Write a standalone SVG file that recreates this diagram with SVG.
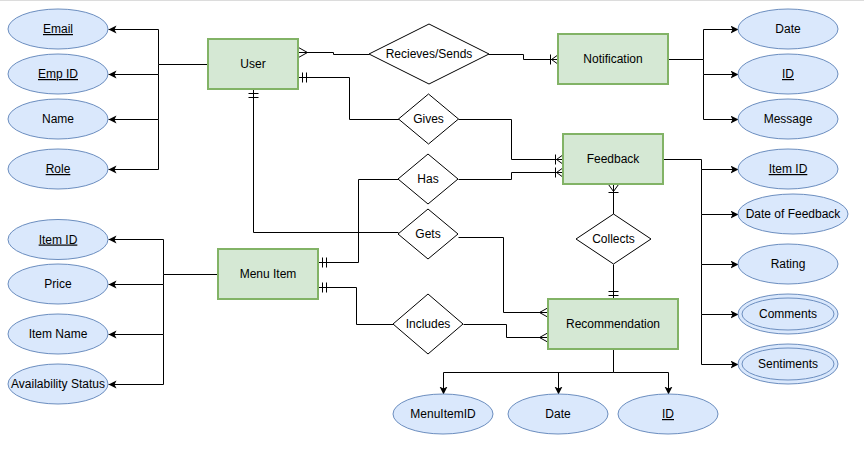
<svg xmlns="http://www.w3.org/2000/svg" width="864" height="449" viewBox="0 0 864 449">
<defs>
<style>
.ent{fill:#d5e8d4;stroke:#82b366;stroke-width:2}
.att{fill:#dae8fc;stroke:#6c8ebf;stroke-width:1}
.rel{fill:#ffffff;stroke:#000000;stroke-width:1}
.t{font-family:"Liberation Sans",Arial,sans-serif;font-size:12px;fill:#000;text-anchor:middle}
.u{text-decoration:underline}
.c{fill:none;stroke:#000;stroke-width:1}
.a{marker-end:url(#arr)}
</style>
<marker id="arr" markerWidth="10" markerHeight="10" refX="8" refY="4" orient="auto" markerUnits="userSpaceOnUse"><path d="M0,0 L8,4 L0,8 L2,4 Z" fill="#000"/></marker>
<marker id="one" markerWidth="12" markerHeight="12" refX="0" refY="0" orient="auto" markerUnits="userSpaceOnUse" overflow="visible"><path d="M4,-5 V5 M8,-5 V5" fill="none" stroke="#000" stroke-width="1"/></marker>
<marker id="many" markerWidth="12" markerHeight="12" refX="0" refY="0" orient="auto" markerUnits="userSpaceOnUse" overflow="visible"><path d="M9,0 L0,-5 M9,0 L0,5" fill="none" stroke="#000" stroke-width="1"/></marker>
<marker id="onemany" markerWidth="12" markerHeight="12" refX="0" refY="0" orient="auto" markerUnits="userSpaceOnUse" overflow="visible"><path d="M7,0 L0,-5 M7,0 L0,5 M8,-5 V5" fill="none" stroke="#000" stroke-width="1"/></marker>
</defs>
<rect x="0" y="0" width="864" height="449" fill="#ffffff"/>
<line x1="0" y1="0.5" x2="864" y2="0.5" stroke="#dcdcdc" stroke-width="1"/>

<g id="connectors" transform="translate(0.5,0.5)">
<path class="c" d="M298,52 H333 V54 H369" marker-start="url(#many)"/>
<path class="c" d="M558,59 H523 V54 H488" marker-start="url(#onemany)"/>
<path class="c" d="M298,77 H349 V119 H399" marker-start="url(#one)"/>
<path class="c" d="M563,159 H511 V119 H458" marker-start="url(#onemany)"/>
<path class="c" d="M563,172 H511 V179 H458" marker-start="url(#onemany)"/>
<path class="c" d="M318,262 H358 V179 H398" marker-start="url(#one)"/>
<path class="c" d="M253,89 V232 H398" marker-start="url(#one)"/>
<path class="c" d="M548,312 H503 V237 H458" marker-start="url(#many)"/>
<path class="c" d="M318,287 H356 V324 H393" marker-start="url(#one)"/>
<path class="c" d="M548,337 H506 V324 H463" marker-start="url(#many)"/>
<path class="c" d="M613,184 V214" marker-start="url(#onemany)"/>
<path class="c" d="M613,299 V264" marker-start="url(#one)"/>

<path class="c a" d="M208,64 H158 V29 H108"/>
<path class="c a" d="M158,64 V74 H108"/>
<path class="c a" d="M158,74 V119 H108"/>
<path class="c a" d="M158,119 V169 H108"/>

<path class="c a" d="M218,274 H163 V239 H108"/>
<path class="c a" d="M163,274 V284 H108"/>
<path class="c a" d="M163,284 V334 H108"/>
<path class="c a" d="M163,334 V384 H108"/>

<path class="c a" d="M668,59 H703 V29 H738"/>
<path class="c a" d="M703,59 V74 H738"/>
<path class="c a" d="M703,74 V119 H738"/>

<path class="c a" d="M663,159 H701 V169 H738"/>
<path class="c a" d="M701,169 V214 H738"/>
<path class="c a" d="M701,214 V264 H738"/>
<path class="c a" d="M701,264 V314 H738"/>
<path class="c a" d="M701,314 V364 H738"/>

<path class="c a" d="M613,349 V372 H443 V394"/>
<path class="c a" d="M558,372 V394"/>
<path class="c a" d="M613,372 H668 V394"/>
</g>

<g id="user"><rect class="ent" x="208" y="39" width="90" height="50"/><text class="t" x="253" y="68">User</text></g>
<g id="notification"><rect class="ent" x="558" y="34" width="110" height="50"/><text class="t" x="613" y="63">Notification</text></g>
<g id="feedback"><rect class="ent" x="563" y="134" width="100" height="50"/><text class="t" x="613" y="163">Feedback</text></g>
<g id="menu-item"><rect class="ent" x="218" y="249" width="100" height="50"/><text class="t" x="268" y="278">Menu Item</text></g>
<g id="recommendation"><rect class="ent" x="548" y="299" width="130" height="50"/><text class="t" x="613" y="328">Recommendation</text></g>

<g id="rel-recieves-sends"><path class="rel" d="M429,24 L489,54 L429,84 L369,54 Z"/><text class="t" x="429" y="58">Recieves/Sends</text></g>
<g id="rel-gives"><path class="rel" d="M428.5,94 L458.5,119 L428.5,144 L398.5,119 Z"/><text class="t" x="428.5" y="123">Gives</text></g>
<g id="rel-has"><path class="rel" d="M428,154 L458,179 L428,204 L398,179 Z"/><text class="t" x="428" y="183">Has</text></g>
<g id="rel-gets"><path class="rel" d="M428,209 L458,234 L428,259 L398,234 Z"/><text class="t" x="428" y="238">Gets</text></g>
<g id="rel-includes"><path class="rel" d="M428,294 L463,324 L428,354 L393,324 Z"/><text class="t" x="428" y="328">Includes</text></g>
<g id="rel-collects"><path class="rel" d="M613.5,214 L651,239 L613.5,264 L576,239 Z"/><text class="t" x="613.5" y="243">Collects</text></g>

<g id="attr-email"><ellipse class="att" cx="58" cy="29" rx="50" ry="20"/><text class="t u" x="58" y="33">Email</text></g>
<g id="attr-empid"><ellipse class="att" cx="58" cy="74" rx="50" ry="20"/><text class="t u" x="58" y="78">Emp ID</text></g>
<g id="attr-name"><ellipse class="att" cx="58" cy="119" rx="50" ry="20"/><text class="t" x="58" y="123">Name</text></g>
<g id="attr-role"><ellipse class="att" cx="58" cy="169" rx="50" ry="20"/><text class="t u" x="58" y="173">Role</text></g>

<g id="attr-menu-itemid"><ellipse class="att" cx="58" cy="239.5" rx="50" ry="20"/><text class="t u" x="58" y="243.5">Item ID</text></g>
<g id="attr-price"><ellipse class="att" cx="58" cy="284" rx="50" ry="20"/><text class="t" x="58" y="288">Price</text></g>
<g id="attr-itemname"><ellipse class="att" cx="58" cy="334" rx="50" ry="20"/><text class="t" x="58" y="338">Item Name</text></g>
<g id="attr-availability"><ellipse class="att" cx="58" cy="384" rx="50" ry="20"/><text class="t" x="58" y="388">Availability Status</text></g>

<g id="attr-notif-date"><ellipse class="att" cx="788" cy="29" rx="50" ry="20"/><text class="t" x="788" y="33">Date</text></g>
<g id="attr-notif-id"><ellipse class="att" cx="788" cy="74" rx="50" ry="20"/><text class="t u" x="788" y="78">ID</text></g>
<g id="attr-message"><ellipse class="att" cx="788" cy="119" rx="50" ry="20"/><text class="t" x="788" y="123">Message</text></g>

<g id="attr-fb-itemid"><ellipse class="att" cx="788" cy="169" rx="50" ry="20"/><text class="t u" x="788" y="173">Item ID</text></g>
<g id="attr-fb-date"><ellipse class="att" cx="793" cy="214" rx="55" ry="20"/><text class="t" x="793" y="218">Date of Feedback</text></g>
<g id="attr-rating"><ellipse class="att" cx="788" cy="264" rx="50" ry="20"/><text class="t" x="788" y="268">Rating</text></g>
<g id="attr-comments"><ellipse class="att" cx="788" cy="314" rx="50" ry="20"/><ellipse class="att" cx="788" cy="314" rx="46" ry="16"/><text class="t" x="788" y="318">Comments</text></g>
<g id="attr-sentiments"><ellipse class="att" cx="788" cy="364" rx="50" ry="20"/><ellipse class="att" cx="788" cy="364" rx="46" ry="16"/><text class="t" x="788" y="368">Sentiments</text></g>

<g id="attr-menuitemid"><ellipse class="att" cx="443" cy="414" rx="50" ry="20"/><text class="t" x="443" y="418">MenuItemID</text></g>
<g id="attr-rec-date"><ellipse class="att" cx="558" cy="414" rx="50" ry="20"/><text class="t" x="558" y="418">Date</text></g>
<g id="attr-rec-id"><ellipse class="att" cx="668" cy="414" rx="50" ry="20"/><text class="t u" x="668" y="418">ID</text></g>
</svg>
